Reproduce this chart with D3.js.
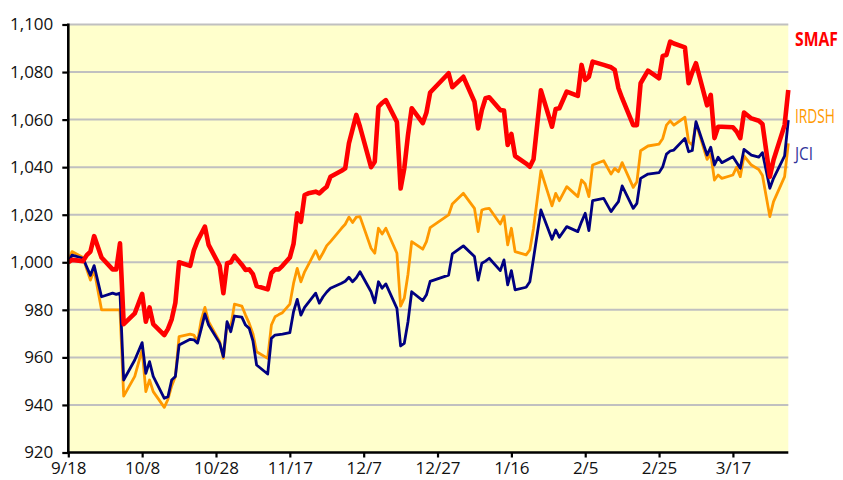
<!DOCTYPE html>
<html>
<head>
<meta charset="utf-8">
<script src="https://cdn.jsdelivr.net/npm/d3@7"></script>
<style>
  html, body { margin: 0; padding: 0; background: #fff; }
  svg text { font-family: "Open Sans", "Noto Sans", sans-serif; }
</style>
</head>
<body>
<svg id="chart" width="843" height="480"></svg>
<script>
// --- data ---
const dates = ['9/18','9/19','9/22','9/23','9/24','9/25','9/27','9/30','10/1','10/2',
  '10/3','10/6','10/8','10/9','10/10','10/11','10/14','10/15','10/16','10/17',
  '10/18','10/21','10/22','10/23','10/24','10/25','10/26','10/29','10/30','10/31',
  '11/1','11/2','11/4','11/5','11/6','11/7','11/8','11/11','11/12','11/13',
  '11/14','11/15','11/17','11/18','11/19','11/20','11/21','11/22','11/24','11/25',
  '11/26','11/27','11/28','12/1','12/2','12/3','12/4','12/5','12/6','12/9',
  '12/10','12/11','12/12','12/13','12/16','12/17','12/18','12/19','12/20','12/23',
  '12/24','12/25','12/30','12/31','1/3','1/6','1/7','1/8','1/9','1/10',
  '1/13','1/14','1/15','1/16','1/17','1/20','1/21','1/22','1/24','1/27',
  '1/28','1/29','1/31','2/3','2/4','2/5','2/6','2/7','2/10','2/12',
  '2/13','2/14','2/15','2/18','2/19','2/20','2/22','2/25','2/26','2/27',
  '2/28','3/1','3/4','3/5','3/6','3/7','3/10','3/11','3/12','3/13',
  '3/14','3/17','3/18','3/19','3/20','3/22','3/24','3/25','3/27','3/28',
  '3/31','4/1'];

const smaf = [1000,1001,1000.5,1003,1004.5,1011,1002,997,997,1008,
  974,978.5,986.7,975,981,974,969.4,972,976,983,
  1000,998.5,1005,1009,1012,1015,1007.3,998.5,987,999.6,
  1000,1002.7,999,996.8,997,995,990,988.6,995.4,997,
  997,998.5,1002,1007.7,1020.6,1017,1028.3,1029,1029.7,1029,
  1030.5,1031.8,1036,1038.5,1039.5,1050,1056,1062,1057,1040,
  1042.3,1065.4,1067,1068.2,1059,1031,1039.5,1053.5,1064.8,1058.5,
  1063,1071.4,1079.5,1073.6,1078,1067.5,1056.3,1064,1069,1069.4,
  1064,1063.8,1049.3,1054,1044.7,1041.5,1040.2,1043.3,1072.3,1057,
  1064.5,1064.8,1071.8,1070,1083,1076.7,1078,1084.4,1083,1082,
  1080.9,1073.2,1069,1057.7,1057.7,1075.3,1080.6,1077.4,1086.8,1087.2,
  1092.8,1092,1090.4,1075.3,1080,1083.7,1066,1070.4,1052.2,1057,
  1057,1056.8,1055,1052.2,1063,1060.5,1059.5,1058.2,1036,1043,
  1057.7,1072.5];

const irdsh = [1000,1004.5,1002,997,992.5,996.8,980,980,980,980,
  943.7,952,963.3,945.6,950.5,945.6,939,942.4,948,952,
  968.7,969.8,969.4,966.6,975.7,981,975,966.6,959.6,974.3,
  972.9,982.4,981.6,977.8,974.3,970,962.4,959.6,973.6,977.1,
  978,978.8,982.4,991.1,997.4,991.8,996,998.9,1004.9,1001.3,
  1004,1007,1008.7,1014.3,1016,1019,1016.7,1019,1019.2,1005.9,
  1003.8,1014.3,1011.9,1014.3,1003.8,981.6,984.9,995,1008.7,1005.5,
  1008.7,1014.6,1019.9,1024.5,1029,1022.7,1012.9,1022,1022.5,1022.7,
  1016.1,1019.5,1007.3,1014.3,1004.5,1003.1,1005.2,1014.3,1038.5,1023.7,
  1029,1025.9,1031.8,1027.6,1034.6,1032.9,1027.6,1040.9,1042.7,1037.1,
  1039.5,1038.1,1041.9,1031.5,1033.9,1046.9,1048.9,1049.7,1052.1,1057.7,
  1059.5,1057.7,1061,1050.7,1049.3,1058.5,1043.3,1045.5,1034.6,1036.7,
  1035.3,1036.7,1040,1036,1044.7,1040.9,1039,1036.5,1019.2,1025.5,
  1036,1050];

const jci = [1000,1003,1001.7,998,994.5,998.6,985.5,987,986.5,987,
  950.5,958.9,966.2,953.3,958.2,952,942.8,943.5,950.5,952,
  965.2,967.6,967.4,966,972,978.3,973.6,966,960.3,975,
  970.8,977.4,976.9,973.6,972.2,967,956.8,953,968,969.4,
  969.6,969.8,970.4,979.2,984.4,977.8,981,983,987,982.8,
  985.5,987.5,989.1,991.2,992,993.7,991.8,993.5,996,987.6,
  983,991.8,989.1,990.9,980.6,964.8,965.9,975,987.6,983.9,
  986.3,992,994.6,1003.5,1006.9,1002.4,992.5,999.6,1000.5,1001.7,
  996.5,1001,990.5,996.5,988.4,989.5,991.8,1001.7,1022,1009.7,
  1013.6,1010.5,1015,1012.9,1017,1020.6,1013.3,1025.9,1026.9,1021.3,
  1023.5,1025.5,1032.1,1022.7,1024.8,1035.3,1037.1,1037.7,1040.2,1045.5,
  1046.8,1047.2,1052.1,1046.5,1047,1059.1,1045.1,1048.4,1040.9,1044.2,
  1041.9,1044.4,1042,1039.5,1047.5,1045.1,1044.2,1046.1,1031.1,1035.3,
  1044.7,1059.8];

const tickLabels = ['9/18','10/8','10/28','11/17','12/7','12/27','1/16','2/5','2/25','3/17'];
const yTickValues = [920, 940, 960, 980, 1000, 1020, 1040, 1060, 1080, 1100];

const seriesNames = ['IRDSH', 'JCI', 'SMAF'];
const seriesValues = [irdsh, jci, smaf];

// dates run from September into the following spring
function toDate(md) {
    const [m, d] = md.split('/').map(Number);
    return new Date(m >= 9 ? 2012 : 2013, m - 1, d);
}

const styles = {
    IRDSH: { color: '#ff9900', width: 2.8, label: '#ff9900', weight: 'normal', y: 118, size: 20, len: 40 },
    JCI:   { color: '#000080', width: 2.8, label: '#333399', weight: 'normal', y: 155, size: 19, len: 18 },
    SMAF:  { color: '#ff0000', width: 4.6, label: '#ff0000', weight: 'bold',   y: 41,  size: 20, len: 43 }
};

const svg = d3.select('#chart');
const margin = { left: 68.3, right: 788.3, top: 24.5, bottom: 452.5 };

const x = d3.scaleTime()
    .domain([toDate('9/18'), toDate('4/1')])
    .range([margin.left, margin.right]);
const y = d3.scaleLinear()
    .domain([920, 1100])
    .range([margin.bottom, margin.top]);

// plot background
svg.append('rect')
    .attr('x', margin.left)
    .attr('y', margin.top)
    .attr('width', margin.right - margin.left)
    .attr('height', margin.bottom - margin.top)
    .attr('fill', '#ffffcc');

// gridlines
svg.append('g')
    .selectAll('line')
    .data(yTickValues.filter(v => v > 920))
    .join('line')
    .attr('x1', margin.left)
    .attr('x2', margin.right)
    .attr('y1', d => y(d))
    .attr('y2', d => y(d))
    .attr('stroke', '#c0c0c0')
    .attr('stroke-width', 2);

// series lines
const line = d3.line()
    .x(d => x(d.date))
    .y(d => y(d.value));

seriesNames.forEach((name, i) => {
    const pts = dates.map((dt, j) => ({ date: toDate(dt), value: seriesValues[i][j] }));
    svg.append('path')
        .datum(pts)
        .attr('fill', 'none')
        .attr('stroke', styles[name].color)
        .attr('stroke-width', styles[name].width)
        .attr('stroke-linejoin', 'round')
        .attr('d', line);
});

// axes
const yAxis = d3.axisLeft(y)
    .tickValues(yTickValues)
    .tickSize(6)
    .tickPadding(9)
    .tickFormat(d3.format(','));
const xAxis = d3.axisBottom(x)
    .tickValues(tickLabels.map(toDate))
    .tickSize(5)
    .tickPadding(4)
    .tickFormat((d, i) => tickLabels[i]);

const gy = svg.append('g')
    .attr('transform', `translate(${margin.left},0)`)
    .call(yAxis);
const gx = svg.append('g')
    .attr('transform', `translate(0,${margin.bottom})`)
    .call(xAxis);

[gx, gy].forEach(g => {
    g.select('.domain').attr('stroke', '#000').attr('stroke-width', 2.6);
    g.selectAll('.tick line').attr('stroke', '#000').attr('stroke-width', 2.2);
    g.selectAll('.tick text')
        .attr('fill', '#111')
        .style('font-size', '17px');
});
gy.select('.domain').attr('d', `M0,${margin.top - 1}V${margin.bottom + 1.3}`);
gx.select('.domain').attr('d', `M${margin.left - 1.3},0H${margin.right}`);

// series labels on the right, squeezed horizontally like the condensed original
svg.append('g')
    .selectAll('text')
    .data(seriesNames)
    .join('text')
    .attr('dominant-baseline', 'middle')
    .attr('fill', d => styles[d].label)
    .style('font-weight', d => styles[d].weight)
    .style('font-size', d => styles[d].size + 'px')
    .text(d => d)
    .attr('transform', function(d) {
        const k = Math.min(1, styles[d].len / this.getComputedTextLength());
        return `translate(795,${styles[d].y}) scale(${k},1)`;
    });
</script>
</body>
</html>
